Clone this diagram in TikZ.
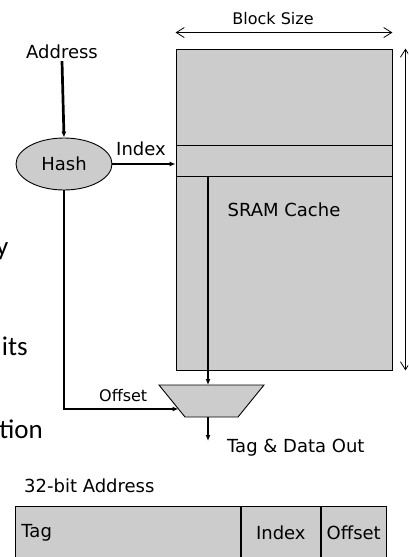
\documentclass[tikz,border=0pt]{standalone}
\usepackage{fontspec}
\setmainfont{DejaVu Sans}
\newfontfamily\slidefont{Carlito}
\usetikzlibrary{calc,shapes.geometric,arrows.meta,positioning}

\definecolor{cachegray}{RGB}{204,204,204}

\begin{document}
\begin{tikzpicture}[x=1pt,y=-1pt,
		block/.style={draw,line width=0.9pt,fill=cachegray,inner sep=0pt},
		txt/.style={font=\fontsize{18}{21}\selectfont,inner sep=2pt},
		smalltxt/.style={font=\fontsize{16}{19}\selectfont,inner sep=2pt},
		slidetxt/.style={font=\slidefont\fontsize{27}{32}\selectfont,inner sep=0pt},
		wire/.style={line width=2.7pt,-{Latex[length=6pt,width=5pt]}},
		dim/.style={line width=0.8pt,{Straight Barb[length=8pt,width=10pt]}-{Straight Barb[length=8pt,width=10pt]}}]
	
	\clip (0,0) rectangle (408,557);
	
	%slide text cut off at the left
	\node[slidetxt,anchor=base east] (wordy) at (8.5,255) {y};
	\node[slidetxt,anchor=base east] (wordits) at (28,355) {its};
	\node[slidetxt,anchor=base east] (wordtion) at (43,438) {tion};
	
	%cache array with index row
	\node[block,minimum width=216pt,minimum height=321pt] (cache) at (284,209.5) {};
	\node[block,minimum width=216pt,minimum height=31pt] (row) at (284,161) {};
	\node[txt] (sram) at (284,210) {SRAM Cache};
	
	%dimensions
	\draw[dim] ($(cache.north west)+(0,-16)$) -- ($(cache.north east)+(0,-16)$);
	\node[smalltxt] (bsize) at (273,19) {Block Size};
	\draw[dim] ($(cache.north east)+(13,0)$) -- ($(cache.south east)+(13,0)$);
	
	%hash
	\node[txt] (addr) at (62,52) {Address};
	\node[block,ellipse,minimum width=96pt,minimum height=52pt,txt] (hash) at (64,164) {Hash};
	\node[txt,anchor=south] (idx) at (141,158) {Index};
	
	%mux
	\coordinate (muxtl) at (159,385);
	\coordinate (muxtr) at (264,385);
	\coordinate (muxbr) at (238,417);
	\coordinate (muxbl) at (185,417);
	\coordinate (muxtop) at (208,385);
	\coordinate (muxbot) at (208,417);
	\coordinate (muxin) at ($(muxtl)!0.75!(muxbl)$);
	\coordinate (out) at (208,441);
	\draw[block] (muxtl) -- (muxtr) -- (muxbr) -- (muxbl) -- cycle;
	\node[smalltxt,anchor=base west] (offlbl) at (97,401) {Offset};
	\node[txt,anchor=base west] (dataout) at (225,452) {Tag \& Data Out};
	
	%wires
	\draw[wire] (addr.south) -- (hash.north);
	\draw[wire] (hash.east) -- (hash.east -| row.west);
	\draw[wire] (hash.south) |- (muxin);
	\draw[wire] (row.south -| muxtop) -- (muxtop);
	\draw[wire] (muxbot) -- (out);
	
	%address fields
	\node[txt,anchor=base west] (addrlbl) at (22,492) {32-bit Address};
	\node[block,minimum width=225pt,minimum height=52pt,anchor=north west,txt,text width=213pt,align=left,inner xsep=6pt] (tagf) at (15,506) {Tag};
	\node[block,minimum width=79pt,minimum height=52pt,anchor=north west,txt] (idxf) at (tagf.north east) {Index};
	\node[block,minimum width=65pt,minimum height=52pt,anchor=north west,txt] (offf) at (idxf.north east) {Offset};
\end{tikzpicture}
\end{document}
